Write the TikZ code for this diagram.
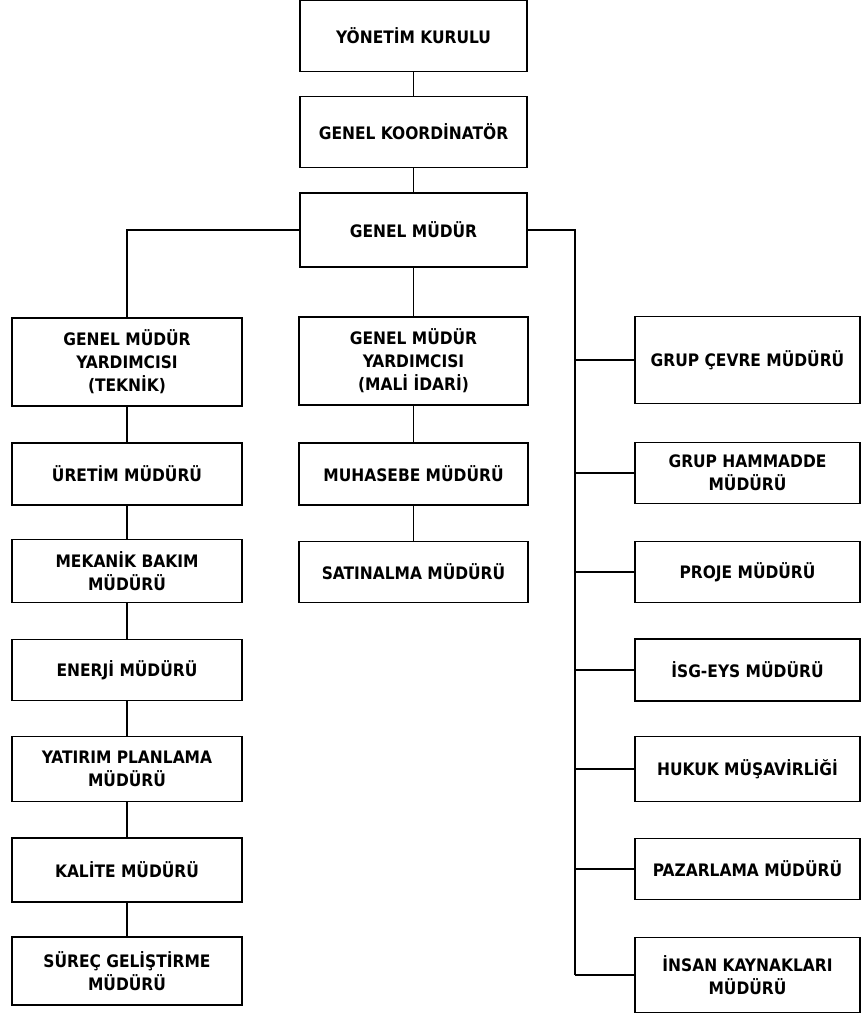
\documentclass[tikz,border=0pt]{standalone}
\usepackage{fontspec}
\setmainfont{DejaVu Sans Condensed}
\tikzset{unit/.style={ % Sets the properties for each box
            draw,
            line width=1.8pt,
            align=center,
            minimum width=230pt,
            minimum height=63pt,
            inner sep=2pt,
            font=\fontsize{17.2}{23}\selectfont\bfseries},
        link/.style={ % Sets the properties for each connecting line
            draw,
            line width=1.8pt}
        }

\begin{document}
\begin{tikzpicture}[x=1pt, y=-1pt] % one unit is one pixel of the chart, y downwards
    \useasboundingbox (0,0) rectangle (861,1015);

    % top of the chart
    \node[unit, minimum width=227pt, minimum height=71pt] (yk)  at (413.5,36)  {YÖNETİM KURULU};
    \node[unit, minimum width=227pt, minimum height=71pt] (gk)  at (413.5,132) {GENEL KOORDİNATÖR};
    \node[unit, minimum width=227pt, minimum height=74pt] (gm)  at (413.5,230) {GENEL MÜDÜR};

    % left column
    \node[unit, minimum height=88pt] (tek)     at (127,362) {GENEL MÜDÜR\\YARDIMCISI\\(TEKNİK)};
    \node[unit, minimum height=62pt] (uretim)  at (127,474) {ÜRETİM MÜDÜRÜ};
    \node[unit]                      (mekanik) at (127,571) {MEKANİK BAKIM\\MÜDÜRÜ};
    \node[unit, minimum height=61pt] (enerji)  at (127,670) {ENERJİ MÜDÜRÜ};
    \node[unit, minimum height=65pt] (yatirim) at (127,769) {YATIRIM PLANLAMA\\MÜDÜRÜ};
    \node[unit, minimum height=64pt] (kalite)  at (127,870) {KALİTE MÜDÜRÜ};
    \node[unit, minimum height=68pt] (surec)   at (127,971) {SÜREÇ GELİŞTİRME\\MÜDÜRÜ};

    % middle column
    \node[unit, minimum width=229pt, minimum height=88pt] (mali)      at (413.5,361) {GENEL MÜDÜR\\YARDIMCISI\\(MALİ İDARİ)};
    \node[unit, minimum width=229pt, minimum height=62pt] (muhasebe)  at (413.5,474) {MUHASEBE MÜDÜRÜ};
    \node[unit, minimum width=229pt, minimum height=61pt] (satinalma) at (413.5,572) {SATINALMA MÜDÜRÜ};

    % right column
    \node[unit, minimum width=225pt, minimum height=87pt] (cevre)     at (747.5,360) {GRUP ÇEVRE MÜDÜRÜ};
    \node[unit, minimum width=225pt, minimum height=61pt] (hammadde)  at (747.5,473) {GRUP HAMMADDE\\MÜDÜRÜ};
    \node[unit, minimum width=225pt, minimum height=61pt] (proje)     at (747.5,572) {PROJE MÜDÜRÜ};
    \node[unit, minimum width=225pt, minimum height=62pt] (isg)       at (747.5,670) {İSG-EYS MÜDÜRÜ};
    \node[unit, minimum width=225pt, minimum height=65pt] (hukuk)     at (747.5,769) {HUKUK MÜŞAVİRLİĞİ};
    \node[unit, minimum width=225pt, minimum height=61pt] (pazarlama) at (747.5,869) {PAZARLAMA MÜDÜRÜ};
    \node[unit, minimum width=225pt, minimum height=75pt] (insan)     at (747.5,975) {İNSAN KAYNAKLARI\\MÜDÜRÜ};

    \coordinate (bus) at (575,230);

    \path[link]
        (yk) -- (gk) -- (gm) -- (mali) -- (muhasebe) -- (satinalma)
        (gm.west) -| (tek.north)
        (tek) -- (uretim) -- (mekanik) -- (enerji) -- (yatirim) -- (kalite) -- (surec)
        (gm.east) -- (bus) -- (bus |- insan.west);
    \foreach \n in {cevre,hammadde,proje,isg,hukuk,pazarlama,insan}
        \path[link] (bus |- \n.west) -- (\n.west);
\end{tikzpicture}
\end{document}
